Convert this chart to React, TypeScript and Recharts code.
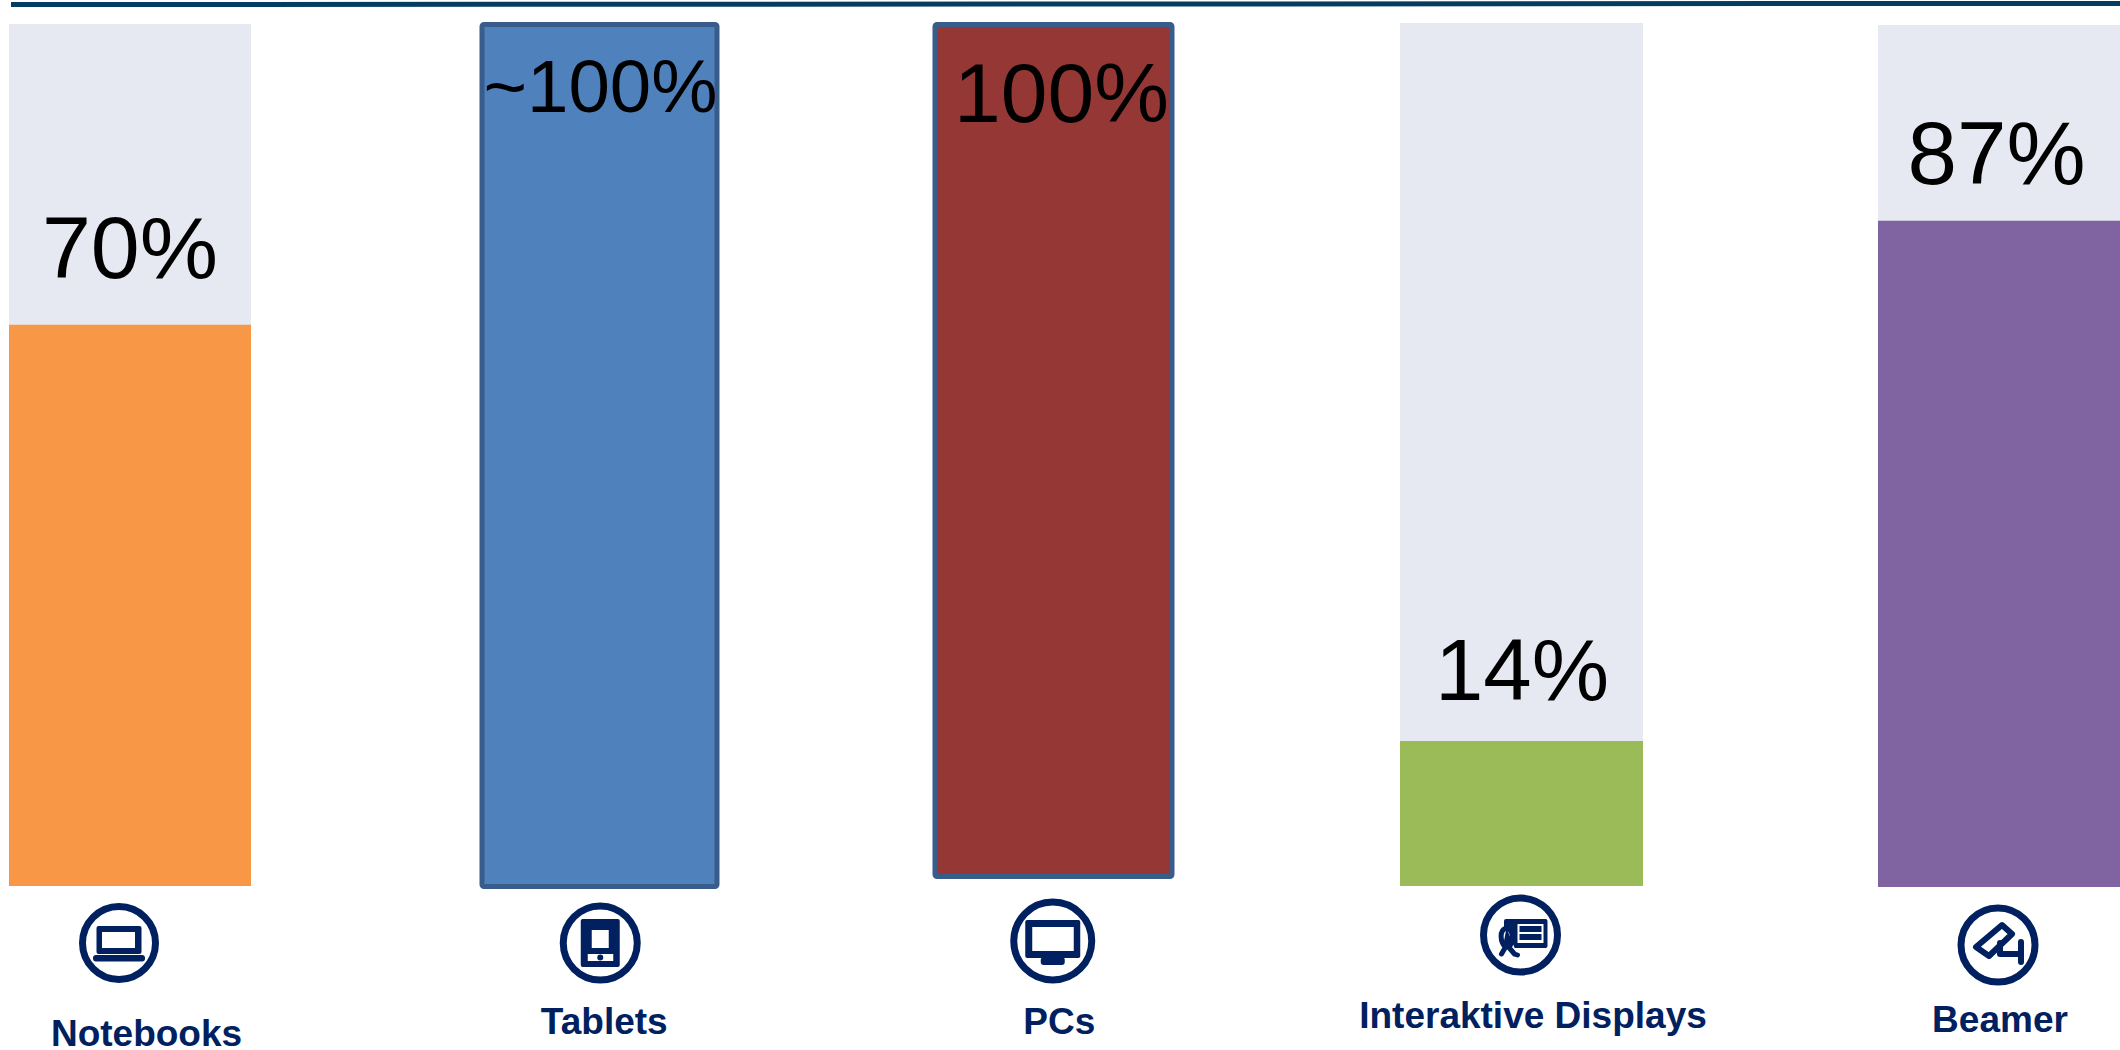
import React from "react";
import { BarChart, Bar, XAxis, YAxis, LabelList } from "recharts";

// Data
const categories = ["Notebooks", "Tablets", "PCs", "Interaktive Displays", "Beamer"];
const fillHeights = [65.1, 100, 100, 16.8, 77.3]; // drawn height of each coloured column, % of its column
const valueLabels = ["70%", "~100%", "100%", "14%", "87%"];

// Styles
const colors = ["#F89746", "#4F81BD", "#953735", "#9BBB59", "#8064A2"];
const TRACK = "#E6E9F1";
const BORDER = "#385D8A";
const NAVY = "#002060";
const FONT = "'Liberation Sans', Arial, sans-serif";
const GUTTER = 200;

type Layout = {
  left: number; right: number; top: number; bottom: number; outlined: boolean;
  labelDx: number; labelDy: number; labelSize: number;
  iconDx: number; iconY: number; iconR: number; textDx: number; textY: number;
};

// Panel geometry (page pixels; the last two groups are relative to the axis line)
const layouts: Layout[] = [
  { left: 9, right: 251, top: 24, bottom: 886, outlined: false, labelDx: 0, labelDy: -47, labelSize: 88, iconDx: -11, iconY: 57, iconR: 40, textDx: 16.5, textY: 160 },
  { left: 481.5, right: 716, top: 24.5, bottom: 886.5, outlined: true, labelDx: 1, labelDy: 87.5, labelSize: 74.5, iconDx: 1, iconY: 56.5, iconR: 40.5, textDx: 5, textY: 147.5 },
  { left: 934.5, right: 1171, top: 24.5, bottom: 876.5, outlined: true, labelDx: 8, labelDy: 97, labelSize: 84, iconDx: -0.5, iconY: 64.5, iconR: 42.5, textDx: 6, textY: 157.5 },
  { left: 1400, right: 1643, top: 23, bottom: 886, outlined: false, labelDx: 0.5, labelDy: -41, labelSize: 87, iconDx: -1, iconY: 49, iconR: 40.5, textDx: 11.5, textY: 142 },
  { left: 1878, right: 2120, top: 25, bottom: 887, outlined: false, labelDx: -2.5, labelDy: -37, labelSize: 89, iconDx: -1, iconY: 58, iconR: 40.5, textDx: 1, textY: 145 },
];

function Glyph({ index }: { index: number }) {
  const w = "#FFFFFF";
  switch (index) {
    case 0:
      return (
        <g>
          <rect x={-22.5} y={-17} width={45} height={28} rx={2} fill={NAVY} />
          <rect x={-17} y={-11} width={33} height={16} fill={w} />
          <rect x={-26} y={12} width={52} height={6.5} rx={3} fill={NAVY} />
        </g>
      );
    case 1:
      return (
        <g>
          <rect x={-19.5} y={-24} width={39} height={48} rx={2} fill={NAVY} />
          <rect x={-8.5} y={-13} width={17} height={18} fill={w} />
          <rect x={-12.5} y={11} width={25.5} height={7} fill={w} />
          <circle cx={0} cy={14.5} r={3} fill={NAVY} />
        </g>
      );
    case 2:
      return (
        <g>
          <rect x={-27.5} y={-21} width={55} height={38} rx={2} fill={NAVY} />
          <rect x={-20.5} y={-14} width={41.5} height={24} fill={w} />
          <rect x={-12} y={16} width={24} height={8} rx={3} fill={NAVY} />
        </g>
      );
    case 3:
      return (
        <g>
          <rect x={-16.5} y={-16} width={43.5} height={29} rx={2} fill={NAVY} />
          <rect x={-3} y={-11} width={26} height={19} fill={w} />
          <rect x={-1} y={-9} width={22} height={6} fill={NAVY} />
          <rect x={-1} y={-1} width={22} height={6} fill={NAVY} />
          <path d="M-14 -7 C-22 -5 -20 8 -15 12 L-19 19 M-14 -7 C-6 -5 -7 8 -12 12 L-6 19 L-3 20" fill={w} stroke={NAVY} strokeWidth={5} strokeLinecap="round" />
        </g>
      );
    default:
      return (
        <g fill="none" stroke={NAVY} strokeLinecap="round" strokeLinejoin="round">
          <path d="M4 -20 L14 -11 L-9 11 L-22 2 Z" strokeWidth={6} />
          <path d="M2 -2 L2 9 L23 9 M23 -3 L23 17" strokeWidth={6} />
        </g>
      );
  }
}

function makeTick(layout: Layout, index: number) {
  return function DeviceTick({ x, y, payload }: any) {
    return (
      <g>
        <g transform={`translate(${x + layout.iconDx},${y + layout.iconY})`}>
          <circle r={layout.iconR - 3.5} fill="#FFFFFF" stroke={NAVY} strokeWidth={7} />
          <Glyph index={index} />
        </g>
        <text x={x + layout.textDx} y={y + layout.textY} textAnchor="middle" fontFamily={FONT} fontWeight={700} fontSize={37} fill={NAVY}>
          {payload.value}
        </text>
      </g>
    );
  };
}

function makeLabel(layout: Layout) {
  return function ValueLabel({ x, y, width, value }: any) {
    return (
      <text x={x + width / 2 + layout.labelDx} y={y + layout.labelDy} textAnchor="middle" fontFamily={FONT} fontSize={layout.labelSize} fill="#000000">
        {value}
      </text>
    );
  };
}

function Panel({ index }: { index: number }) {
  const layout = layouts[index];
  const data = [{ name: categories[index], value: fillHeights[index], label: valueLabels[index] }];
  const barWidth = layout.right - layout.left;
  return (
    <div style={{ position: "absolute", left: layout.left - GUTTER, top: 0 }}>
      <BarChart
        width={barWidth + 2 * GUTTER}
        height={1050}
        data={data}
        barCategoryGap={0}
        margin={{ top: layout.top, bottom: 0, left: GUTTER, right: GUTTER }}
      >
        <XAxis
          dataKey="name"
          height={1050 - layout.bottom}
          axisLine={false}
          tickLine={false}
          tickSize={0}
          tickMargin={0}
          interval={0}
          tick={makeTick(layout, index)}
        />
        <YAxis hide domain={[0, 100]} />
        <Bar
          dataKey="value"
          isAnimationActive={false}
          fill={colors[index]}
          background={layout.outlined ? false : { fill: TRACK }}
          stroke={layout.outlined ? BORDER : "none"}
          strokeWidth={layout.outlined ? 5 : 0}
          radius={layout.outlined ? 2 : 0}
        >
          <LabelList dataKey="label" content={makeLabel(layout)} />
        </Bar>
      </BarChart>
    </div>
  );
}

export default function App() {
  return (
    <div style={{ position: "fixed", left: 0, top: 0, width: 2120, height: 1050, overflow: "hidden", background: "#FFFFFF" }}>
      <svg width={2120} height={10} style={{ position: "absolute", left: 0, top: 0 }}>
        <line x1={11} y1={4.6} x2={2120} y2={3.4} stroke="#053D60" strokeWidth={5} />
      </svg>
      {categories.map((_, i) => (
        <Panel key={categories[i]} index={i} />
      ))}
    </div>
  );
}
